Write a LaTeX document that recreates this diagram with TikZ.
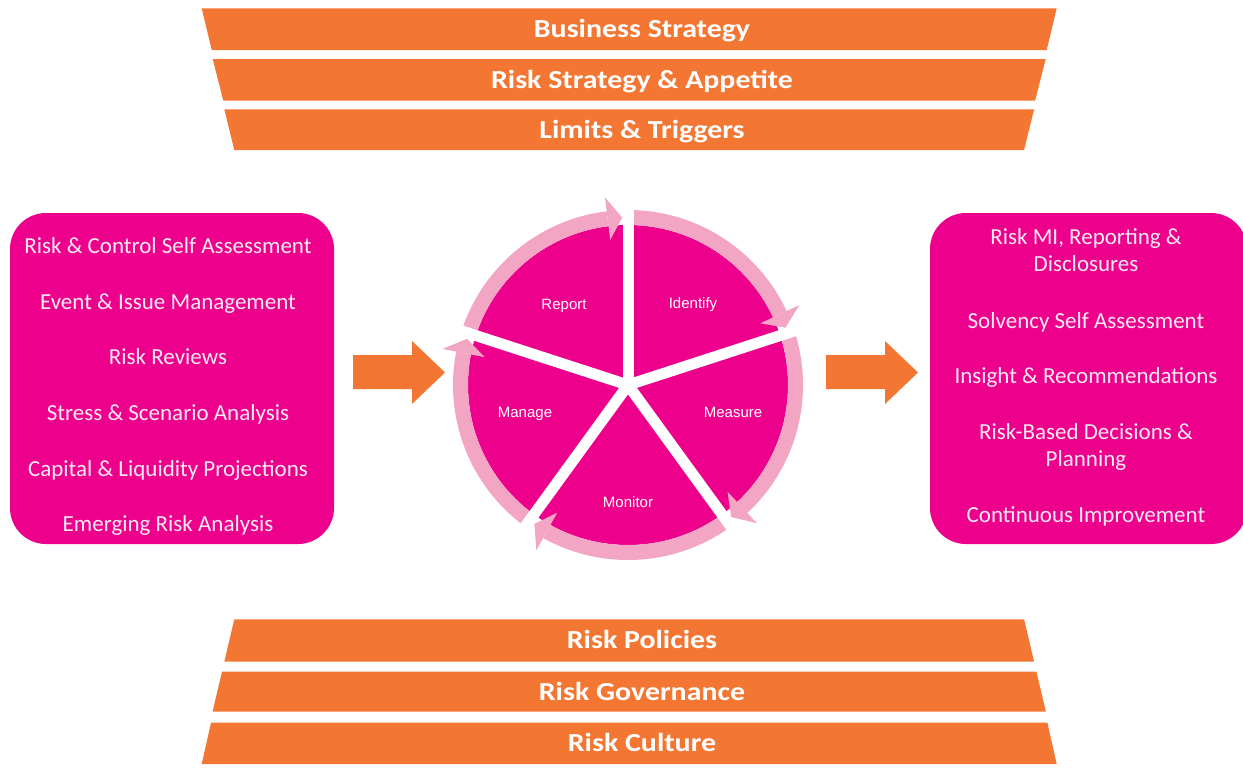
\documentclass[tikz,border=0pt]{standalone}
\usepackage{fontspec}
\setmainfont{Carlito}
\newfontfamily\arialf{Liberation Sans}
\usepackage{graphicx}
\definecolor{orng}{RGB}{244,118,51}
\definecolor{mgnt}{RGB}{236,0,140}
\definecolor{rpink}{RGB}{243,166,196}
\definecolor{txtp}{RGB}{252,234,244}
\tikzset{
  band/.style={fill=orng},
  bandtext/.style={text=white, font=\fontsize{26}{30}\selectfont\bfseries, anchor=base, inner sep=0pt},
  mbox/.style={fill=mgnt, rounded corners=36pt, inner sep=0pt},
  listtext/.style={text=txtp, font=\fontsize{23}{27.6}\selectfont, anchor=base, inner sep=0pt},
  wheeltext/.style={text=white, font=\arialf\fontsize{15}{18}\selectfont, anchor=base, inner sep=0pt},
  ringarrow/.style={fill=rpink},
  gapline/.style={draw=white, line width=11pt},
  blockarrow/.style={fill=orng}
}
\begin{document}
\begin{tikzpicture}[x=1pt,y=-1pt]
\path[use as bounding box] (0,0) rectangle (1243,771);
\clip (0,0) rectangle (1243,771);

% top bands
\foreach \yt/\yb/\lt/\lb/\nm/\bl/\txt in {
  8.3/50/201.7/211.7/bs/37.5/Business Strategy,
  59/100.7/212.7/223.3/rsa/88.2/Risk Strategy \& Appetite,
  109.3/150/224.3/234.3/lt/138/Limits \& Triggers,
  619.3/661.7/234.3/224.3/rp/648.8/Risk Policies,
  671.7/711.7/222/212.5/rg/700/Risk Governance,
  722.7/764/211/201.7/rc/751.6/Risk Culture}{
  \fill[band] (\lt,\yt) -- ({1258.4-\lt},\yt) -- ({1258.4-\lb},\yb) -- (\lb,\yb) -- cycle;
  \node[bandtext] (\nm) at (642,\bl) {\scalebox{1.15}[1]{\txt}};
}

% side boxes
\node[mbox, minimum width=324pt, minimum height=331pt] (leftbox) at (172,378.5) {};
\node[mbox, minimum width=317pt, minimum height=331pt] (rightbox) at (1088.5,378.5) {};

\node[listtext] (l1) at (168,253) {Risk \& Control Self Assessment};
\node[listtext] (l2) at (168,309) {Event \& Issue Management};
\node[listtext] (l3) at (168,364.5) {Risk Reviews};
\node[listtext] (l4) at (168,420) {Stress \& Scenario Analysis};
\node[listtext] (l5) at (168,476) {Capital \& Liquidity Projections};
\node[listtext] (l6) at (168,531.5) {Emerging Risk Analysis};

\node[listtext] (r1a) at (1086,244) {Risk MI, Reporting \&};
\node[listtext] (r1b) at (1086,271.7) {Disclosures};
\node[listtext] (r2) at (1086,328) {Solvency Self Assessment};
\node[listtext] (r3) at (1086,383) {Insight \& Recommendations};
\node[listtext] (r4a) at (1086,439) {Risk-Based Decisions \&};
\node[listtext] (r4b) at (1086,466.7) {Planning};
\node[listtext] (r5) at (1086,522.7) {Continuous Improvement};

% block arrows
\coordinate (la) at (353,372);
\coordinate (ra) at (826,372);
\foreach \c in {la,ra}{
  \fill[blockarrow] ([yshift=17pt]\c) -- ++(59,0) -- ++(0,-14) -- ++(33,31.5) -- ++(-33,31.5) -- ++(0,-15) -- ++(-59,0) -- cycle;
}

% wheel
\coordinate (wc) at (628,385);
\begin{scope}[shift={(wc)}, yscale=-1]
  \fill[mgnt] (0,0) circle[radius=160];
  \foreach \A in {162,90,18,-54,-126}{
    \pgfmathsetmacro{\B}{\A-72}
    \pgfmathsetmacro{\E}{\A-72+7}
    \pgfmathsetmacro{\T}{\A-72+2}
    \fill[ringarrow] (\A:160) arc[start angle=\A, end angle=\E, radius=160] -- (\E:175) arc[start angle=\E, end angle=\A, radius=175] -- cycle;
    \fill[ringarrow] (\E:146) -- (\E:189) -- (\T:167.5) -- cycle;
  }
  \foreach \a in {90,18,-54,-126,162}{
    \draw[gapline] (0,0) -- (\a:196);
  }
\end{scope}

\node[wheeltext] (report) at (564,309) {Report};
\node[wheeltext] (identify) at (693,308) {Identify};
\node[wheeltext] (measure) at (733,417) {Measure};
\node[wheeltext] (manage) at (525,417) {Manage};
\node[wheeltext] (monitor) at (628,507) {Monitor};
\end{tikzpicture}
\end{document}
